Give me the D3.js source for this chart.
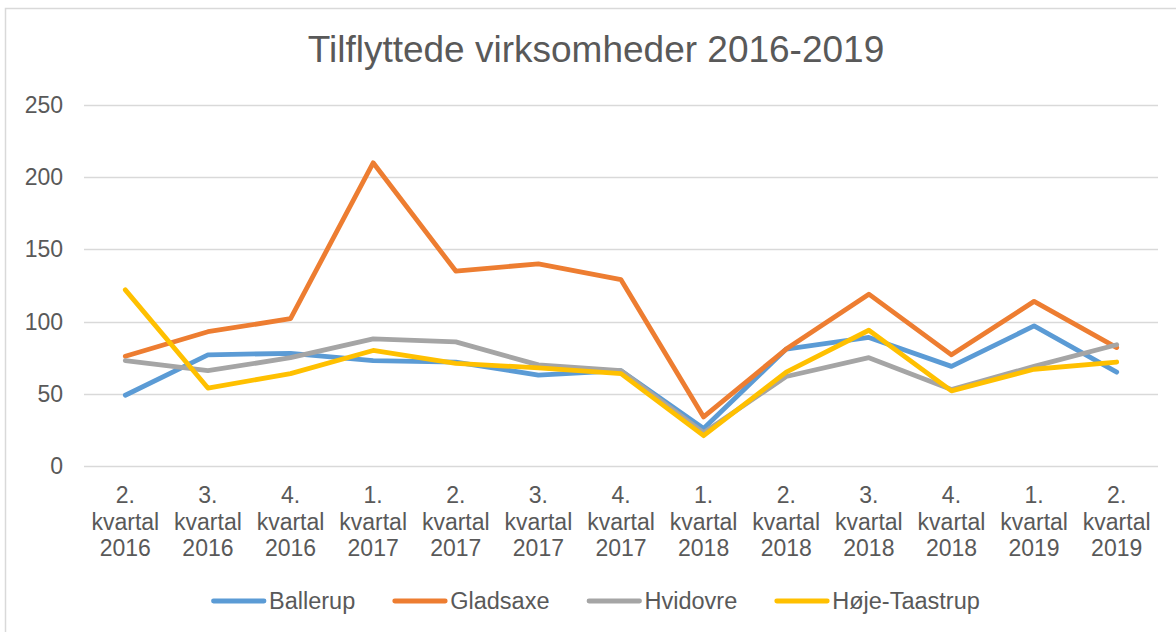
<!DOCTYPE html>
<html>
<head>
<meta charset="utf-8">
<style>
  body { margin: 0; background: #fff; }
  svg text { font-family: "Liberation Sans", Arial, sans-serif; fill: #595959; }
  .grid line { stroke: #d9d9d9; stroke-width: 1.3; }
</style>
</head>
<body>
<svg id="chart" width="1176" height="632"></svg>
<script src="https://cdn.jsdelivr.net/npm/d3@7"></script>
<script>
// quarters shown on x axis (split into three lines)
let quarters = ["2.|kvartal|2016", "3.|kvartal|2016", "4.|kvartal|2016", "1.|kvartal|2017",
  "2.|kvartal|2017", "3.|kvartal|2017", "4.|kvartal|2017", "1.|kvartal|2018",
  "2.|kvartal|2018", "3.|kvartal|2018", "4.|kvartal|2018", "1.|kvartal|2019", "2.|kvartal|2019"]

let ballerup = [49, 77, 78, 73, 72, 63, 66, 26, 81, 89, 69, 97, 65]
let gladsaxe = [76, 93, 102, 210, 135, 140, 129, 34, 81, 119, 77, 114, 82]
let hvidovre = [73, 66, 75, 88, 86, 70, 66, 23, 62, 75, 53, 69, 84]
let hojeTaastrup = [122, 54, 64, 80, 71, 68, 64, 21, 65, 94, 52, 67, 72]

let yTicks = [0, 50, 100, 150, 200, 250]

let series = [
  { name: "Ballerup", values: ballerup, color: "#5b9bd5" },
  { name: "Gladsaxe", values: gladsaxe, color: "#ed7d31" },
  { name: "Hvidovre", values: hvidovre, color: "#a5a5a5" },
  { name: "Høje-Taastrup", values: hojeTaastrup, color: "#ffc000" }
]

let svg = d3.select("#chart")

// outer chart border (right/bottom edges fall outside the picture)
svg.append("rect")
  .attr("x", 5.5).attr("y", 8.5)
  .attr("width", 1190).attr("height", 650)
  .attr("fill", "none").attr("stroke", "#d9d9d9").attr("stroke-width", 1.5)

let plotLeft = 84, plotRight = 1158, plotTop = 105, plotBottom = 466

let x = d3.scaleBand().domain(d3.range(quarters.length)).range([plotLeft, plotRight])
let y = d3.scaleLinear().domain([0, 250]).range([plotBottom, plotTop])

svg.append("text")
  .attr("x", 596).attr("y", 62)
  .attr("text-anchor", "middle")
  .attr("font-size", 37)
  .text("Tilflyttede virksomheder 2016-2019")

// gridlines
svg.append("g").attr("class", "grid")
  .selectAll("line").data(yTicks).enter().append("line")
  .attr("x1", plotLeft).attr("x2", plotRight)
  .attr("y1", d => Math.round(y(d)) + 0.5).attr("y2", d => Math.round(y(d)) + 0.5)

// y axis labels
svg.append("g").selectAll("text").data(yTicks).enter().append("text")
  .attr("x", 63).attr("y", d => y(d) + 8)
  .attr("text-anchor", "end")
  .attr("font-size", 23)
  .text(d => d)

// x axis labels
let xl = svg.append("g").selectAll("text").data(quarters).enter().append("text")
  .attr("text-anchor", "middle")
  .attr("font-size", 23)
  .attr("transform", (d, i) => "translate(" + (x(i) + x.bandwidth() / 2) + ",0)")
xl.selectAll("tspan").data(d => d.split("|")).enter().append("tspan")
  .attr("x", 0)
  .attr("y", (d, i) => 503 + i * 26.7)
  .text(d => d)

let line = d3.line()
  .x((d, i) => x(i) + x.bandwidth() / 2)
  .y(d => y(d))

svg.append("g").selectAll("path").data(series).enter().append("path")
  .attr("d", d => line(d.values))
  .attr("fill", "none")
  .attr("stroke", d => d.color)
  .attr("stroke-width", 4.8)
  .attr("stroke-linejoin", "round")
  .attr("stroke-linecap", "round")

// legend - items laid out one after another
let lg = svg.append("g").selectAll("g").data(series).enter().append("g")
lg.append("line")
  .attr("x1", 2.5).attr("x2", 53)
  .attr("stroke", d => d.color).attr("stroke-width", 4.8)
  .attr("stroke-linecap", "round")
lg.append("text")
  .attr("x", 58).attr("y", 8)
  .attr("font-size", 23.5)
  .text(d => d.name)
let lx = 211
lg.each(function () {
  d3.select(this).attr("transform", "translate(" + lx + ",601)")
  lx += 58 + d3.select(this).select("text").node().getComputedTextLength() + 37
})
</script>
</body>
</html>
